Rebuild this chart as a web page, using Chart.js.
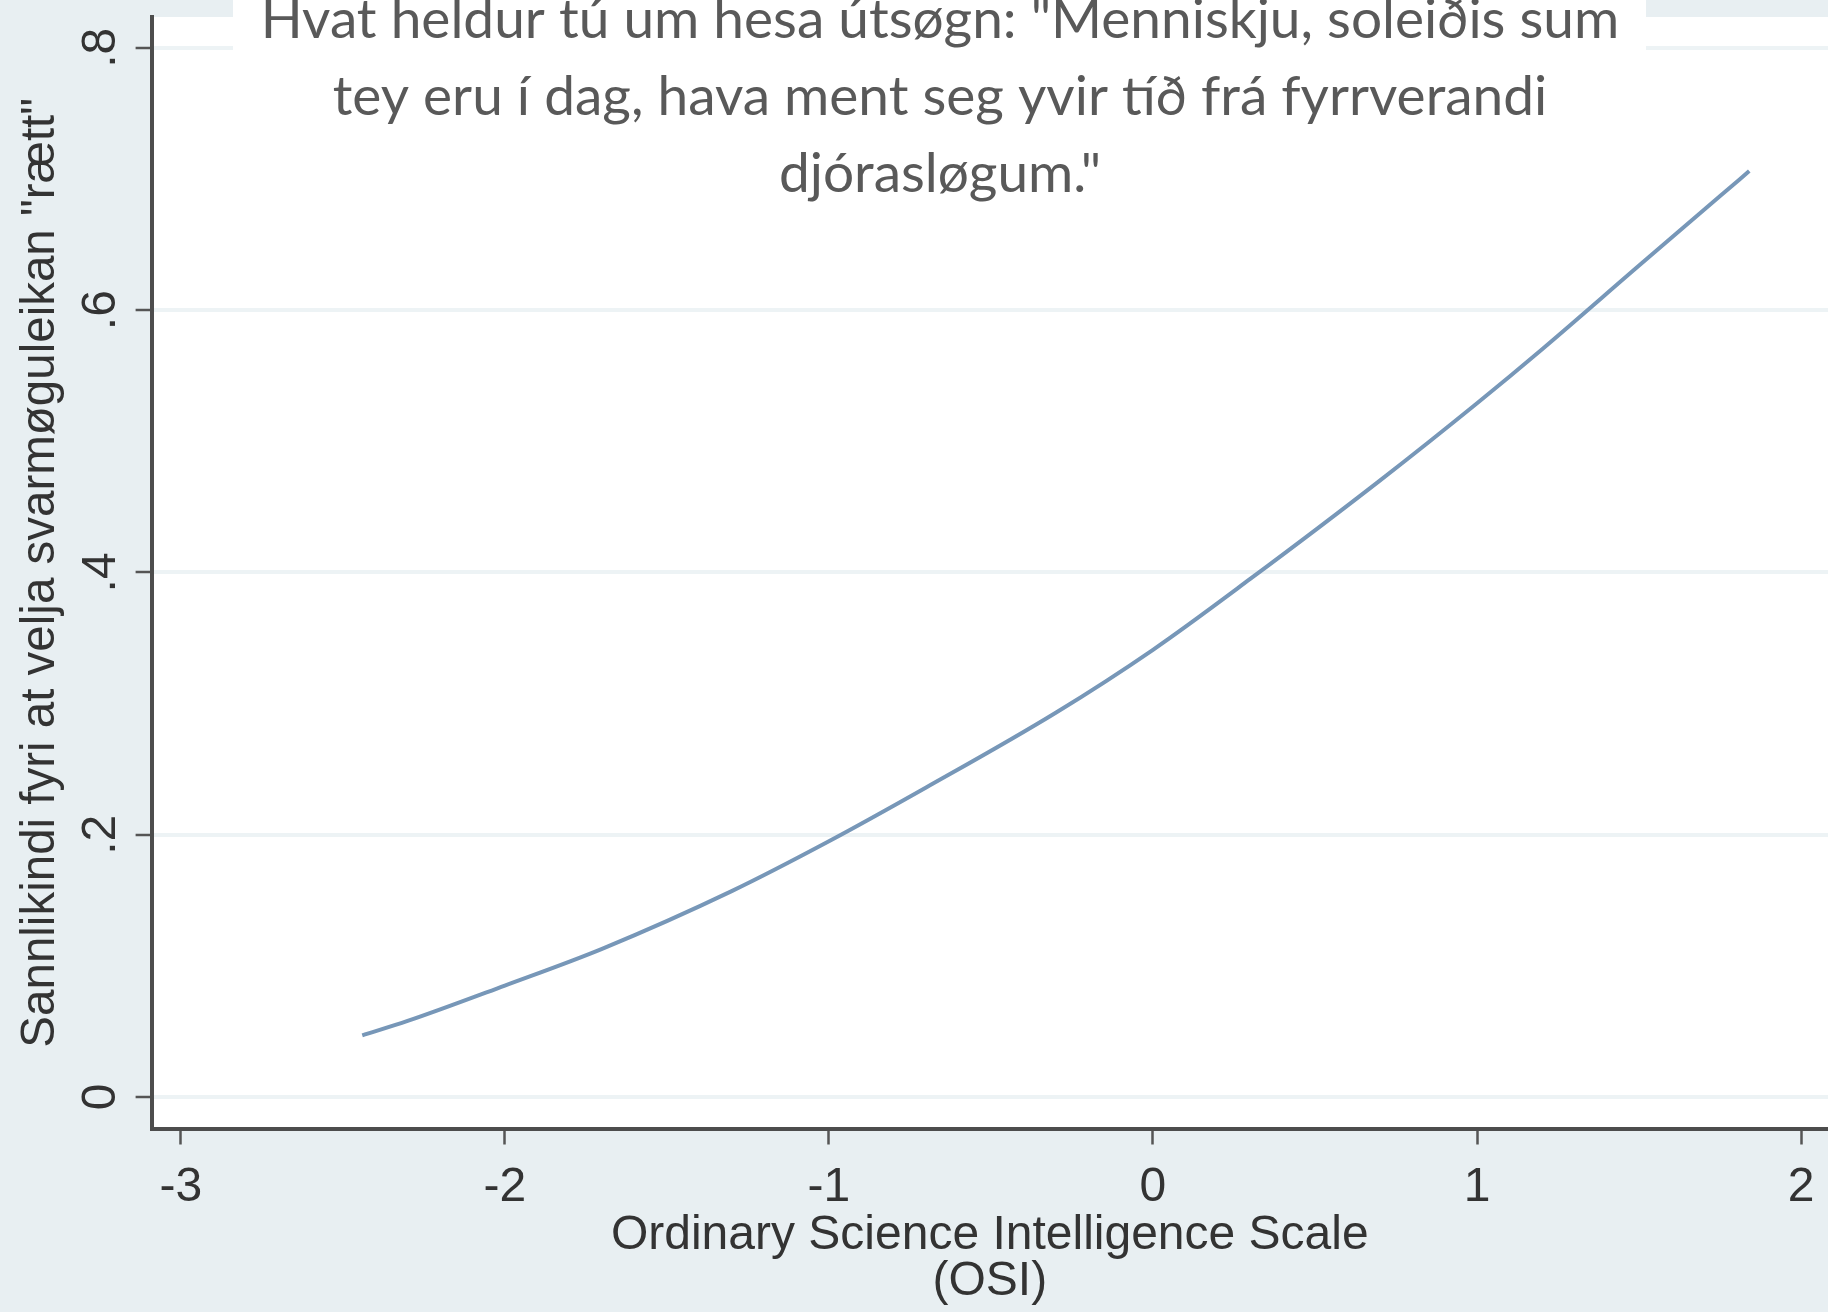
<!DOCTYPE html>
<html>
<head>
<meta charset="utf-8">
<script src="https://cdn.jsdelivr.net/npm/chart.js@4.4.1/dist/chart.umd.min.js"></script>
<style>
  html, body { margin: 0; padding: 0; background: #e8eff2; }
  #wrap { width: 1828px; height: 1312px; }
</style>
</head>
<body>
<div id="wrap"><canvas id="chart" width="1828" height="1312"></canvas></div>
<script>
// predicted probability of answering "rætt"
const osi = [-2.44, -2.3, -2.0, -1.7, -1.3, -1.0, -0.7, -0.3, 0, 0.3, 0.7, 1.0, 1.2, 1.5, 1.75, 1.84];
const probRight = [0.047, 0.058, 0.085, 0.113, 0.157, 0.195, 0.236, 0.293, 0.341, 0.395, 0.470, 0.529, 0.570, 0.634, 0.687, 0.706];

const xTicks = [-3, -2, -1, 0, 1, 2];
const yTicks = [0, 0.2, 0.4, 0.6, 0.8];

const questionLines = [
  'Hvat heldur tú um hesa útsøgn: "Menniskju, soleiðis sum',
  'tey eru í dag, hava ment seg yvir tíð frá fyrrverandi',
  'djórasløgum."'
];
const xTitle = ['Ordinary Science Intelligence Scale', '(OSI)'];
const yTitle = 'Sannlikindi fyri at velja svarmøguleikan "rætt"';

const axisFont = "'Liberation Sans Narrow', 'Liberation Sans', Arial, sans-serif";
const ink = '#333333';

// white plot region on the grey graph background
const plotBackground = {
  id: 'plotBackground',
  beforeDraw(chart) {
    const { ctx, chartArea: a } = chart;
    ctx.save();
    ctx.fillStyle = '#ffffff';
    ctx.fillRect(a.left, a.top, a.right - a.left, a.bottom - a.top);
    ctx.restore();
  }
};

// the question sits in a white text box laid over the top of the plot
const questionBox = {
  id: 'questionBox',
  beforeDatasetsDraw(chart) {
    const ctx = chart.ctx;
    ctx.save();
    ctx.fillStyle = '#ffffff';
    ctx.fillRect(233, 0, 1413, 200);
    ctx.fillStyle = '#595959';
    ctx.font = "55px Lato, 'Open Sans', sans-serif";
    ctx.textAlign = 'center';
    ctx.textBaseline = 'middle';
    questionLines.forEach((line, i) => ctx.fillText(line, 940, 20 + i * 77));
    ctx.restore();
  }
};

new Chart(document.getElementById('chart'), {
  type: 'line',
  data: {
    datasets: [{
      data: osi.map((x, i) => ({ x: x, y: probRight[i] })),
      borderColor: '#7797b8',
      borderWidth: 4,
      pointRadius: 0,
      cubicInterpolationMode: 'monotone',
      fill: false
    }]
  },
  options: {
    responsive: false,
    animation: false,
    layout: { padding: { top: 17, left: 0, right: 0, bottom: 0 } },
    plugins: {
      legend: { display: false },
      tooltip: { enabled: false }
    },
    scales: {
      x: {
        type: 'linear',
        min: -3.09,
        max: 2.083,
        afterBuildTicks: s => { s.ticks = xTicks.map(v => ({ value: v })); },
        afterFit: s => { s.height = 183.5; s.paddingLeft = 0; s.paddingRight = 0; },
        grid: { drawOnChartArea: false, tickLength: 16, tickColor: '#555555', tickWidth: 2.5 },
        border: { color: '#4d4d4d', width: 4 },
        ticks: {
          font: { family: axisFont, size: 48 },
          color: ink,
          padding: 14,
          maxRotation: 0,
          autoSkip: false,
          callback: v => String(v)
        },
        title: {
          display: true,
          text: xTitle,
          font: { family: axisFont, size: 48, lineHeight: 0.96 },
          color: ink,
          padding: { top: 0, bottom: 7 }
        }
      },
      y: {
        type: 'linear',
        min: -0.024,
        max: 0.8235,
        afterBuildTicks: s => { s.ticks = yTicks.map(v => ({ value: v })); },
        afterFit: s => { s.width = 151.6; s.paddingTop = 0; s.paddingBottom = 0; },
        grid: { color: '#edf3f5', lineWidth: 4, tickLength: 16, tickColor: '#555555', tickWidth: 2.5 },
        border: { color: '#4d4d4d', width: 4 },
        ticks: {
          font: { family: axisFont, size: 48 },
          color: ink,
          padding: 14,
          minRotation: 90,
          maxRotation: 90,
          crossAlign: 'center',
          callback: v => v === 0 ? '0' : String(Number(v.toFixed(1))).replace(/^0\./, '.')
        },
        title: {
          display: true,
          text: yTitle,
          font: { family: axisFont, size: 47.5, lineHeight: 1 },
          color: ink,
          padding: { top: 17, bottom: 0 }
        }
      }
    }
  },
  plugins: [plotBackground, questionBox]
});
</script>
</body>
</html>
